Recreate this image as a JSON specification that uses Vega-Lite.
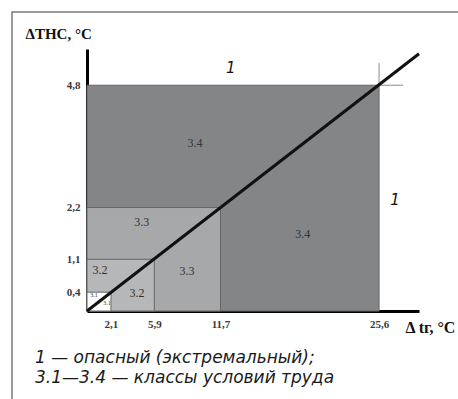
{
  "$schema": "https://vega.github.io/schema/vega-lite/v6.json",
  "width": 332,
  "height": 262,
  "autosize": {"type": "none"},
  "padding": {"left": 87, "top": 49, "right": 39, "bottom": 88},
  "background": "white",
  "config": {"view": {"stroke": null}},
  "datasets": {
    "zones": [
      {"x": 0, "x2": 25.6, "y": 0, "y2": 4.8, "cls": "3.4"},
      {"x": 0, "x2": 11.7, "y": 0, "y2": 2.2, "cls": "3.3"},
      {"x": 0, "x2": 5.9, "y": 0, "y2": 1.1, "cls": "3.2"},
      {"x": 0, "x2": 2.1, "y": 0, "y2": 0.4, "cls": "3.1"}
    ],
    "boundary": [
      {"x": 0, "y": 0},
      {"x": 29.1, "y": 5.47}
    ],
    "labels": [
      {"x": 9.47, "y": 3.57, "label": "3.4", "size": 12},
      {"x": 18.9, "y": 1.64, "label": "3.4", "size": 12},
      {"x": 4.8, "y": 1.89, "label": "3.3", "size": 12},
      {"x": 8.77, "y": 0.85, "label": "3.3", "size": 12},
      {"x": 1.14, "y": 0.87, "label": "3.2", "size": 12},
      {"x": 4.38, "y": 0.38, "label": "3.2", "size": 12},
      {"x": 0.62, "y": 0.33, "label": "3.1", "size": 6},
      {"x": 1.75, "y": 0.16, "label": "3.1", "size": 6}
    ],
    "ones": [
      {"x": 12.6, "y": 5.17, "label": "1"},
      {"x": 27.0, "y": 2.36, "label": "1"}
    ]
  },
  "layer": [
    {
      "data": {"values": [{}]},
      "mark": {"type": "rect", "fill": null, "fillOpacity": 0, "stroke": "#7a7a7a", "strokeWidth": 1.5, "clip": false},
      "encoding": {
        "x": {"datum": -6.574, "type": "quantitative"},
        "x2": {"datum": 33.6},
        "y": {"datum": -2.1, "type": "quantitative"},
        "y2": {"datum": 6.356}
      }
    },
    {
      "data": {"name": "zones"},
      "mark": {"type": "rect", "stroke": "#666666", "strokeWidth": 1},
      "encoding": {
        "x": {
          "field": "x", "type": "quantitative",
          "scale": {"domain": [0, 29.1], "nice": false, "zero": false},
          "axis": {
            "values": [2.1, 5.9, 11.7, 25.6],
            "labelExpr": "replace(format(datum.value, '.1f'), '.', ',')",
            "ticks": false, "grid": false,
            "domainColor": "#000000", "domainWidth": 3,
            "labelFont": "Liberation Serif", "labelFontWeight": "bold", "labelFontSize": 11,
            "labelColor": "#3a3a3a", "labelPadding": 7, "labelOverlap": false, "labelFlush": false,
            "title": "Δ tг, °C",
            "titleX": 318, "titleY": 16, "titleAlign": "left", "titleBaseline": "middle",
            "titleFont": "Liberation Serif", "titleFontSize": 16, "titleFontWeight": "bold", "titleColor": "#111111"
          }
        },
        "x2": {"field": "x2"},
        "y": {
          "field": "y", "type": "quantitative",
          "scale": {"domain": [0, 5.57], "nice": false, "zero": false},
          "axis": {
            "values": [0.4, 1.1, 2.2, 4.8],
            "labelExpr": "replace(format(datum.value, '.1f'), '.', ',')",
            "ticks": false, "grid": false,
            "domainColor": "#000000", "domainWidth": 3,
            "labelFont": "Liberation Serif", "labelFontWeight": "bold", "labelFontSize": 11,
            "labelColor": "#3a3a3a", "labelPadding": 7, "labelOverlap": false, "labelFlush": false,
            "title": "ΔТНС, °С",
            "titleAngle": 0, "titleX": -62, "titleY": -16, "titleAlign": "left", "titleBaseline": "middle",
            "titleFont": "Liberation Serif", "titleFontSize": 15, "titleFontWeight": "bold", "titleColor": "#111111"
          }
        },
        "y2": {"field": "y2"},
        "fill": {
          "field": "cls", "type": "nominal",
          "scale": {"domain": ["3.1", "3.2", "3.3", "3.4"], "range": ["#ffffff", "#b6b7b9", "#a7a8aa", "#848587"]},
          "legend": null
        }
      }
    },
    {
      "data": {"values": [{"x": 25.6, "y": 4.8, "y2": 5.27}]},
      "mark": {"type": "rule", "stroke": "#8a8a8a", "strokeWidth": 1},
      "encoding": {
        "x": {"field": "x", "type": "quantitative"},
        "y": {"field": "y", "type": "quantitative"},
        "y2": {"field": "y2"}
      }
    },
    {
      "data": {"values": [{"x": 25.6, "x2": 27.7, "y": 4.8}]},
      "mark": {"type": "rule", "stroke": "#8a8a8a", "strokeWidth": 1},
      "encoding": {
        "x": {"field": "x", "type": "quantitative"},
        "x2": {"field": "x2"},
        "y": {"field": "y", "type": "quantitative"}
      }
    },
    {
      "data": {"name": "boundary"},
      "mark": {"type": "line", "color": "#111111", "strokeWidth": 3},
      "encoding": {
        "x": {"field": "x", "type": "quantitative"},
        "y": {"field": "y", "type": "quantitative"}
      }
    },
    {
      "data": {"name": "labels"},
      "mark": {"type": "text", "font": "Liberation Serif", "color": "#333333"},
      "encoding": {
        "x": {"field": "x", "type": "quantitative"},
        "y": {"field": "y", "type": "quantitative"},
        "text": {"field": "label"},
        "size": {"field": "size", "type": "quantitative", "scale": null}
      }
    },
    {
      "data": {"name": "ones"},
      "mark": {"type": "text", "font": "DejaVu Sans", "fontStyle": "italic", "fontSize": 15, "color": "#111111"},
      "encoding": {
        "x": {"field": "x", "type": "quantitative"},
        "y": {"field": "y", "type": "quantitative"},
        "text": {"field": "label"}
      }
    },
    {
      "data": {"values": [{}]},
      "mark": {
        "type": "text",
        "text": ["1 — опасный (экстремальный);", "3.1—3.4 — классы условий труда"],
        "font": "DejaVu Sans", "fontStyle": "italic", "fontSize": 17, "lineHeight": 20,
        "align": "left", "baseline": "top", "color": "#1a1a1a", "clip": false
      },
      "encoding": {
        "x": {"datum": -4.56, "type": "quantitative"},
        "y": {"datum": -0.83, "type": "quantitative"}
      }
    }
  ]
}
